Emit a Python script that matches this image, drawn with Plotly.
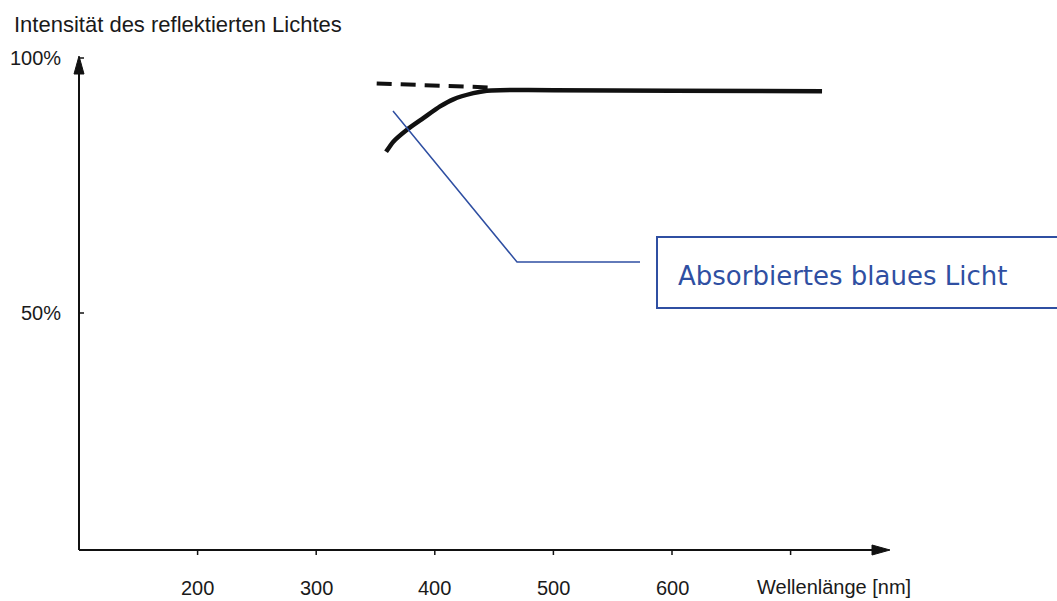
import plotly.graph_objects as go

W, H = 1057, 601

# ---- data ----
x_ticks = [200, 300, 400, 500, 600, 700]
x_tick_labels = ["200", "300", "400", "500", "600", ""]
y_ticks = [50, 100]
y_tick_labels = ["50%", "100%"]

solid_nm = [358.9, 365.0, 376.3, 390.3, 404.4, 415.6, 432.5, 443.8, 455.0, 500, 600, 726.5]
solid_pct = [81.6, 83.6, 85.9, 88.2, 90.5, 91.9, 93.1, 93.6, 93.7, 93.7, 93.6, 93.5]
dashed_nm = [351, 449]
dashed_pct = [95.0, 94.2]

title_text = "Intensität des reflektierten Lichtes"
x_title = "Wellenlänge [nm]"
callout = "Absorbiertes blaues Licht"

# ---- pixel <-> data mapping of the plot area ----
PX_PER_NM = 1.186
PX_PER_PCT = 5.1
X0_PX, X0_NM = 79, 100
Y0_PX = 568  # pixel row of 0 %

def nm_at(px):
    return X0_NM + (px - X0_PX) / PX_PER_NM

def pct_at(py):
    return (Y0_PX - py) / PX_PER_PCT

def pxp(x):
    return x / W

def pyp(y):
    return 1 - y / H

BLACK = "#111111"
BLUE = "#2F4FA2"

fig = go.Figure()
fig.add_trace(go.Scatter(x=dashed_nm, y=dashed_pct, mode="lines",
                         line=dict(color=BLACK, width=4, dash="15px,9px"),
                         hoverinfo="skip", showlegend=False))
fig.add_trace(go.Scatter(x=solid_nm, y=solid_pct, mode="lines",
                         line=dict(color=BLACK, width=4.5, shape="spline", smoothing=0.6),
                         hoverinfo="skip", showlegend=False))

shapes = []
axis_y = pct_at(550)
x_axis_end = nm_at(880)
y_axis_top = pct_at(66)
# axis lines
shapes.append(dict(type="line", xref="x", yref="y", x0=X0_NM, y0=axis_y, x1=x_axis_end, y1=axis_y,
                   line=dict(color=BLACK, width=2)))
shapes.append(dict(type="line", xref="x", yref="y", x0=X0_NM, y0=axis_y, x1=X0_NM, y1=y_axis_top,
                   line=dict(color=BLACK, width=2)))
# arrowheads
tipx, basex, hh = nm_at(890), nm_at(872), 5 / PX_PER_PCT
shapes.append(dict(type="path", xref="x", yref="y",
                   path=f"M {tipx},{axis_y} L {basex},{axis_y + hh} L {basex},{axis_y - hh} Z",
                   fillcolor=BLACK, line=dict(color=BLACK, width=1)))
tipy, basey, hw = pct_at(56), pct_at(74), 5 / PX_PER_NM
shapes.append(dict(type="path", xref="x", yref="y",
                   path=f"M {X0_NM},{tipy} L {X0_NM - hw},{basey} L {X0_NM + hw},{basey} Z",
                   fillcolor=BLACK, line=dict(color=BLACK, width=1)))
# ticks
for t in x_ticks:
    shapes.append(dict(type="line", xref="x", yref="y", x0=t, x1=t, y0=axis_y, y1=axis_y - 5 / PX_PER_PCT,
                       line=dict(color=BLACK, width=1.5)))
for t in y_ticks:
    shapes.append(dict(type="line", xref="x", yref="y", x0=X0_NM, x1=X0_NM + 5 / PX_PER_NM, y0=t, y1=t,
                       line=dict(color=BLACK, width=1.5)))
# callout leader and box
shapes.append(dict(type="path", xref="paper", yref="paper",
                   path=f"M {pxp(393)},{pyp(111)} L {pxp(517)},{pyp(262)} L {pxp(640)},{pyp(262)}",
                   line=dict(color=BLUE, width=1.5)))
shapes.append(dict(type="rect", xref="paper", yref="paper",
                   x0=pxp(657), x1=1.02, y0=pyp(308), y1=pyp(237),
                   line=dict(color=BLUE, width=2)))

annotations = []
tick_font = dict(family="Liberation Sans, Arial", size=20, color="#1a1a1a")
title_font = dict(family="Liberation Sans, Arial", size=22, color="#1a1a1a")
for t, lab in zip(x_ticks, x_tick_labels):
    if lab:
        annotations.append(dict(x=t, y=pct_at(588), xref="x", yref="y", text=lab, showarrow=False,
                                xanchor="center", yanchor="middle", font=tick_font))
for t, lab in zip(y_ticks, y_tick_labels):
    annotations.append(dict(x=pxp(63), y=t, xref="paper", yref="y", text=lab, showarrow=False,
                            xanchor="right", yanchor="middle", font=tick_font))
annotations.append(dict(x=pxp(755), y=pyp(587), xref="paper", yref="paper", text=x_title, showarrow=False,
                        xanchor="left", yanchor="middle", font=tick_font))
annotations.append(dict(x=pxp(12), y=pyp(25), xref="paper", yref="paper", text=title_text, showarrow=False,
                        xanchor="left", yanchor="middle", font=title_font))
annotations.append(dict(x=pxp(676), y=pyp(276), xref="paper", yref="paper", text=callout, showarrow=False,
                        xanchor="left", yanchor="middle",
                        font=dict(family="DejaVu Sans, Verdana", size=26, color=BLUE)))

fig.update_layout(
    width=W, height=H,
    margin=dict(l=0, r=0, t=0, b=0),
    paper_bgcolor="white", plot_bgcolor="white",
    xaxis=dict(visible=False, range=[nm_at(0), nm_at(W)], domain=[0, 1], fixedrange=True),
    yaxis=dict(visible=False, range=[pct_at(H), pct_at(0)], domain=[0, 1], fixedrange=True),
    shapes=shapes, annotations=annotations,
)

fig.write_html("out.html", config={"displayModeBar": False},
               post_script="document.body.style.margin='0';document.body.style.overflow='hidden';")
